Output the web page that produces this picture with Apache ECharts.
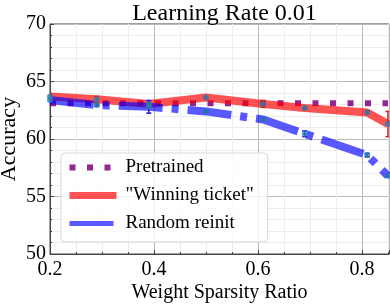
<!DOCTYPE html>
<html><head><meta charset="utf-8">
<script src="https://cdn.jsdelivr.net/npm/echarts@6/dist/echarts.min.js"></script>
<style>html,body{margin:0;padding:0;background:#fff}#c{width:390px;height:304px}</style>
</head><body><div id="c"></div>
<script>
const sparsity = [0.2, 0.29, 0.39, 0.5, 0.61, 0.69, 0.81, 0.85];
const pretrained = [63.1, 63.1, 63.1, 63.1, 63.1, 63.1, 63.1, 63.1];
const winning = [63.7, 63.45, 63.05, 63.6, 63.05, 62.7, 62.3, 61.3];
const winningErr = [0.1, 0.25, 0.1, 0.1, 0.3, 0.1, 0.1, 1.1];
const randomReinit = [63.4, 62.95, 62.8, 62.4, 61.7, 60.45, 58.6, 56.8];
const randomErr = [0.1, 0.1, 0.55, 0.1, 0.1, 0.25, 0.15, 0.1];
const xTicks = [0.2, 0.4, 0.6, 0.8];
const seriesNames = ['Pretrained', '"Winning ticket"', 'Random reinit'];

const FONT = '"Liberation Serif", "DejaVu Serif", serif';
const RED = 'rgba(255,0,0,0.68)';
const BLUE = 'rgba(0,0,255,0.65)';
const PURPLE = 'rgba(128,0,128,0.85)';

const pairs = a => sparsity.map((x, i) => [x, a[i]]);
const errData = (v, e) => sparsity.map((x, i) => [x, v[i] - e[i], v[i] + e[i]]);

function errRender(color) {
  return function (params, api) {
    const x = api.value(0);
    const lo = api.coord([x, api.value(1)]);
    const hi = api.coord([x, api.value(2)]);
    const c = 2.5;
    const st = { stroke: color, lineWidth: 1.5 };
    return { type: 'group', children: [
      { type: 'line', shape: { x1: lo[0], y1: lo[1], x2: hi[0], y2: hi[1] }, style: st },
      { type: 'line', shape: { x1: lo[0] - c, y1: lo[1], x2: lo[0] + c, y2: lo[1] }, style: st },
      { type: 'line', shape: { x1: hi[0] - c, y1: hi[1], x2: hi[0] + c, y2: hi[1] }, style: st }
    ]};
  };
}

const chart = echarts.init(document.getElementById('c'), null, { renderer: 'canvas' });
chart.setOption({
  animation: false,
  title: { text: 'Learning Rate 0.01', left: 219.5, textAlign: 'center', top: -3,
    textStyle: { fontFamily: FONT, fontSize: 24, fontWeight: 'normal', color: '#000' } },
  grid: { left: 50, right: 1, top: 24, bottom: 50, show: true, borderColor: '#444', borderWidth: 1,
    outerBoundsMode: 'none', containLabel: false },
  legend: {
    orient: 'vertical', left: 61, top: 153,
    padding: [5, 14, 9, 5], itemGap: 9, itemWidth: 47, itemHeight: 19,
    backgroundColor: 'rgba(255,255,255,0.8)', borderColor: '#d8d8d8', borderWidth: 1, borderRadius: 4,
    formatter: name => '{t|' + name + '}',
    itemStyle: { color: 'rgba(0,0,0,0)', borderWidth: 0, opacity: 0 },
    textStyle: { fontFamily: FONT, fontSize: 19, color: '#000',
      rich: { t: { fontFamily: FONT, fontSize: 19, color: '#000', padding: [0, 0, 0, 4] } } },
    data: [
      { name: seriesNames[0], lineStyle: { width: 6 } },
      { name: seriesNames[1], lineStyle: { width: 7 } },
      { name: seriesNames[2], lineStyle: { width: 5 } }
    ]
  },
  xAxis: {
    type: 'value', min: 0.2, max: 0.852, interval: 0.2,
    name: 'Weight Sparsity Ratio', nameLocation: 'middle', nameGap: 29, nameMoveOverlap: false,
    nameTextStyle: { fontFamily: FONT, fontSize: 20, color: '#000' },
    axisLine: { lineStyle: { color: '#444' } },
    axisTick: { inside: true, length: 4, lineStyle: { color: '#444' } },
    minorTick: { show: true, splitNumber: 4, length: 2, lineStyle: { color: '#444' } },
    axisLabel: { fontFamily: FONT, fontSize: 20, color: '#000', margin: 6, showMaxLabel: false,
      formatter: v => xTicks.some(t => Math.abs(t - v) < 1e-6) ? v.toFixed(1) : '' },
    splitLine: { show: true, lineStyle: { color: '#b8b8b8', width: 1 } },
    minorSplitLine: { show: true, lineStyle: { color: '#ececec', width: 1 } }
  },
  yAxis: {
    type: 'value', min: 50, max: 70, interval: 5,
    name: 'Accuracy', nameLocation: 'middle', nameGap: 30, nameMoveOverlap: false,
    nameTextStyle: { fontFamily: FONT, fontSize: 22, color: '#000' },
    axisLine: { show: true, lineStyle: { color: '#444' } },
    axisTick: { show: true, inside: true, length: 4, lineStyle: { color: '#444' } },
    minorTick: { show: true, splitNumber: 5, length: 2, lineStyle: { color: '#444' } },
    axisLabel: { fontFamily: FONT, fontSize: 20, color: '#000', margin: 4 },
    splitLine: { show: true, lineStyle: { color: '#b8b8b8', width: 1 } },
    minorSplitLine: { show: true, lineStyle: { color: '#ececec', width: 1 } }
  },
  series: [
    { name: seriesNames[0], type: 'line', data: pairs(pretrained), symbol: 'none', clip: true,
      color: PURPLE, lineStyle: { color: PURPLE, width: 6, type: [6, 11.5], cap: 'butt' } },
    { name: seriesNames[1], type: 'line', data: pairs(winning), symbol: 'none', clip: true,
      color: RED, lineStyle: { color: RED, width: 8 } },
    { name: seriesNames[2], type: 'line', data: pairs(randomReinit), symbol: 'none', clip: true,
      color: BLUE, lineStyle: { color: BLUE, width: 8, type: [44, 9, 7, 9], cap: 'butt' } },
    { type: 'custom', data: errData(winning, winningErr), renderItem: errRender('#e8161b'), z: 5, clip: true },
    { type: 'custom', data: errData(randomReinit, randomErr), renderItem: errRender('#1414e6'), z: 5, clip: true },
    { type: 'scatter', data: pairs(winning), symbolSize: 6, itemStyle: { color: '#2a7fb0' }, z: 6, clip: true },
    { type: 'scatter', data: pairs(randomReinit), symbolSize: 6, itemStyle: { color: '#2a7fb0' }, z: 6, clip: true }
  ]
});
</script></body></html>
